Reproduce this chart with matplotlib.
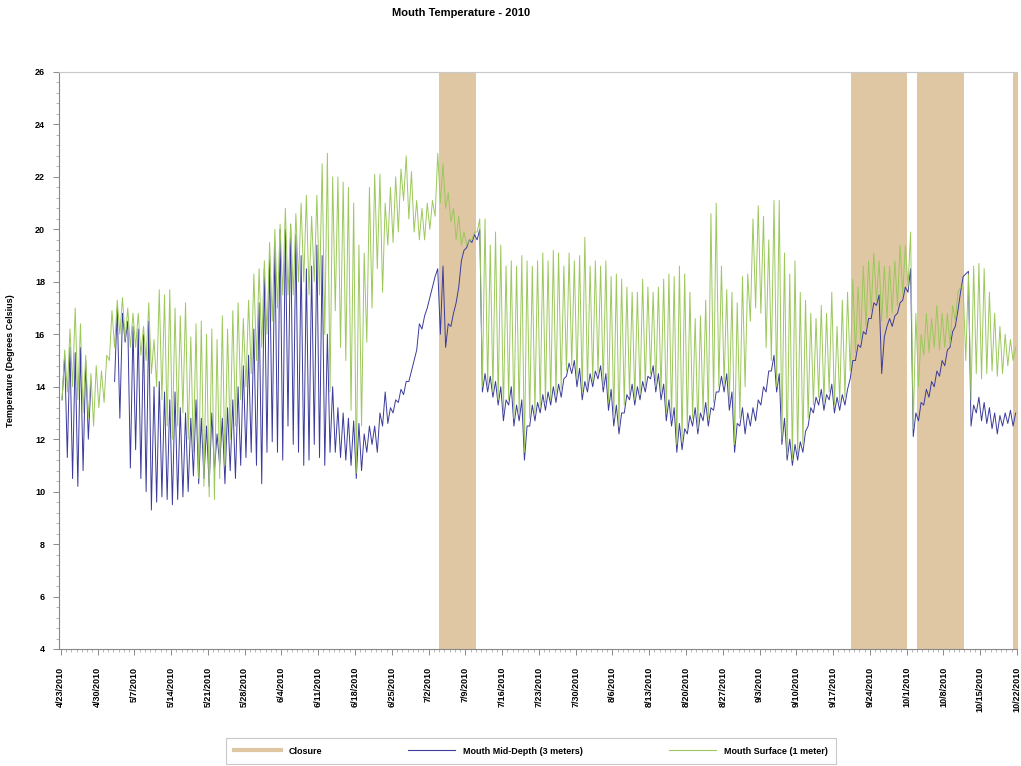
import numpy as np
import pandas as pd
import matplotlib
matplotlib.use("Agg")
import matplotlib.pyplot as plt
import matplotlib.dates as mdates
from matplotlib.lines import Line2D

plt.rcParams['font.family'] = ['Liberation Sans', 'DejaVu Sans']

# daily records, 4/23/2010 .. 10/21/2010 (182 days)
start_date = "2010-04-23"

# Mouth Surface (1 meter): daily high / low, deg C
surface_hi = [
    15.4, 16.2, 17.0, 16.4, 15.2, 14.5, 14.8, 14.6, 15.2, 16.9,
    17.3, 17.4, 17.0, 16.8, 16.8, 16.3, 17.2, 15.8, 17.7, 17.5,
    17.7, 17.0, 16.7, 17.2, 15.9, 16.4, 16.5, 16.0, 16.2, 15.8,
    16.7, 16.2, 16.9, 17.2, 16.6, 17.3, 18.3, 18.5, 18.8, 19.5,
    20.0, 20.2, 20.8, 20.2, 20.6, 21.0, 21.3, 20.5, 21.3, 22.5,
    22.9, 22.0, 22.0, 21.8, 21.6, 21.0, 19.4, 19.1, 21.6, 22.1,
    22.1, 21.0, 21.6, 22.0, 22.3, 22.8, 22.2, 21.1, 20.8, 21.0,
    21.1, 22.9, 22.5, 21.4, 20.8, 20.5, 19.9, 19.6, 19.9, 20.4,
    20.4, 19.4, 19.9, 19.4, 18.6, 18.8, 18.6, 19.0, 18.8, 18.6,
    18.8, 19.1, 18.8, 19.2, 19.1, 18.6, 19.1, 18.8, 19.0, 19.7,
    18.6, 18.8, 18.6, 18.8, 18.2, 18.3, 18.1, 17.8, 17.6, 17.6,
    18.1, 17.8, 17.6, 17.8, 18.1, 18.3, 18.2, 18.6, 18.3, 17.6,
    16.6, 16.7, 17.3, 20.6, 21.0, 18.6, 17.7, 17.6, 17.2, 18.2,
    18.3, 20.4, 20.9, 20.5, 19.6, 21.1, 21.1, 19.1, 18.3, 18.8,
    17.6, 17.3, 16.8, 16.6, 17.1, 16.8, 17.6, 16.3, 17.3, 17.6,
    18.1, 17.8, 18.6, 18.8, 19.1, 18.8, 18.6, 18.6, 18.8, 19.4,
    19.4, 19.9, 16.8, 16.0, 16.8, 16.6, 17.1, 16.8, 16.8, 17.1,
    17.6, 17.8, 18.3, 18.6, 18.7, 18.5, 17.6, 16.8, 16.3, 16.0,
    15.8, 15.5,
]
surface_lo = [
    13.5, 13.8, 14.0, 13.5, 13.0, 12.8, 12.5, 13.2, 13.4, 15.0,
    15.5, 16.0, 15.8, 15.5, 15.5, 15.2, 15.0, 14.5, 14.0, 13.5,
    12.5, 12.0, 12.5, 13.0, 12.0, 11.5, 10.5, 10.2, 9.8, 9.7,
    10.5, 11.0, 12.0, 12.5, 13.5, 14.0, 14.5, 15.0, 15.5, 16.0,
    16.5, 17.0, 17.5, 17.5, 17.5, 18.0, 18.0, 17.5, 18.0, 17.5,
    16.0, 13.8, 16.9, 15.5, 15.0, 13.1, 10.7, 12.5, 15.7, 17.0,
    18.5, 17.6, 19.4, 19.5, 19.9, 21.1, 20.4, 19.9, 19.6, 19.6,
    20.0, 20.5, 21.0, 20.8, 20.3, 19.6, 19.4, 19.4, 19.6, 19.9,
    14.0, 14.0, 13.8, 13.5, 13.0, 13.5, 12.8, 13.0, 11.5, 12.8,
    13.0, 13.2, 13.4, 13.5, 13.7, 13.9, 14.6, 14.8, 14.3, 13.8,
    14.0, 14.2, 14.5, 14.0, 13.4, 12.8, 12.5, 13.3, 13.7, 13.5,
    13.7, 14.0, 14.5, 14.0, 13.8, 13.0, 12.8, 11.8, 11.9, 12.4,
    12.8, 12.4, 13.0, 12.8, 13.4, 14.0, 14.1, 13.4, 11.8, 12.8,
    14.0, 16.5, 17.0, 16.8, 15.5, 15.0, 14.0, 12.0, 11.4, 11.2,
    11.4, 11.8, 12.8, 13.3, 13.6, 13.4, 13.8, 13.3, 13.4, 13.6,
    14.6, 15.3, 15.8, 16.3, 16.9, 17.3, 16.5, 16.6, 16.8, 17.1,
    17.5, 17.8, 12.4, 14.0, 15.2, 15.3, 15.5, 15.4, 15.5, 15.6,
    16.5, 17.8, 15.0, 13.5, 14.5, 14.3, 14.5, 14.6, 14.4, 14.5,
    14.8, 15.0,
]

# Mouth Mid-Depth (3 meters): daily high / low, deg C (no record 4/29-5/2)
middepth_hi = [
    15.2, 15.5, 15.3, 15.5, 15.0, 14.2, np.nan, np.nan, np.nan, np.nan,
    17.0, 16.8, 16.5, 16.3, 16.2, 16.0, 16.5, 14.0, 14.2, 13.8,
    13.5, 13.8, 13.2, 13.0, 12.8, 13.5, 12.8, 12.5, 13.0, 12.2,
    12.8, 13.2, 13.5, 14.0, 14.8, 15.2, 16.2, 17.2, 18.5, 19.0,
    19.5, 20.0, 20.0, 20.2, 19.8, 19.0, 18.5, 18.6, 19.4, 19.0,
    16.0, 14.0, 13.2, 13.0, 12.8, 12.7, 12.6, 12.2, 12.5, 12.5,
    13.0, 13.8, 13.2, 13.5, 13.9, 14.2, 14.6, 15.4, 16.2, 17.0,
    17.8, 18.5, 18.6, 16.4, 16.8, 17.8, 19.2, 19.6, 19.8, 20.0,
    14.5, 14.4, 14.2, 14.0, 13.5, 14.0, 13.3, 13.5, 12.5, 13.3,
    13.4, 13.7, 13.8, 14.0, 14.1, 14.3, 14.9, 15.0, 14.7, 14.2,
    14.5, 14.6, 14.8, 14.5, 13.9, 13.3, 13.0, 13.7, 14.1, 14.0,
    14.2, 14.4, 14.8, 14.5, 14.1, 13.5, 13.2, 12.6, 12.4, 12.9,
    13.2, 13.0, 13.4, 13.2, 13.8, 14.4, 14.5, 13.8, 12.6, 13.2,
    13.0, 13.2, 13.5, 14.0, 14.6, 15.2, 14.5, 12.8, 12.0, 11.8,
    11.9, 12.3, 13.2, 13.6, 13.9, 13.7, 14.1, 13.6, 13.7, 13.9,
    15.0, 15.6, 16.1, 16.6, 17.2, 17.5, 15.9, 16.6, 16.7, 17.2,
    17.8, 18.5, 13.0, 13.4, 13.9, 14.2, 14.6, 15.0, 15.4, 16.1,
    16.9, 18.2, 18.4, 13.3, 13.6, 13.4, 13.2, 13.0, 12.9, 13.0,
    13.1, 13.0,
]
middepth_lo = [
    13.5, 11.3, 10.5, 10.2, 10.8, 12.0, np.nan, np.nan, np.nan, np.nan,
    14.2, 12.8, 15.7, 10.9, 11.6, 10.5, 10.0, 9.3, 9.6, 9.8,
    9.7, 9.5, 9.7, 9.8, 10.0, 10.6, 10.3, 10.5, 10.2, 10.8,
    11.0, 10.3, 10.8, 10.5, 11.0, 11.3, 11.5, 11.0, 10.3, 11.5,
    11.9, 11.5, 11.2, 12.5, 11.8, 11.5, 11.0, 11.2, 11.8, 11.3,
    11.0, 11.5, 11.5, 11.3, 11.2, 11.0, 10.5, 10.8, 11.5, 11.8,
    11.5, 12.5, 12.6, 13.0, 13.4, 13.7, 14.2, 15.0, 16.4, 16.7,
    17.4, 18.2, 16.0, 15.5, 16.3, 17.2, 18.8, 19.3, 19.5, 19.6,
    13.8, 13.8, 13.6, 13.3, 12.7, 13.3, 12.5, 12.7, 11.2, 12.5,
    12.7, 13.0, 13.1, 13.3, 13.4, 13.6, 14.4, 14.5, 14.0, 13.5,
    13.8, 14.0, 14.3, 13.8, 13.1, 12.5, 12.2, 13.0, 13.5, 13.3,
    13.5, 13.8, 14.3, 13.8, 13.5, 12.7, 12.5, 11.5, 11.6, 12.2,
    12.5, 12.2, 12.7, 12.5, 13.1, 13.8, 13.8, 13.1, 11.5, 12.5,
    12.2, 12.5, 12.7, 13.3, 13.8, 14.6, 13.8, 11.8, 11.2, 11.0,
    11.2, 11.5, 12.5, 13.0, 13.3, 13.1, 13.5, 13.0, 13.1, 13.3,
    14.3, 15.0, 15.5, 16.0, 16.6, 17.1, 14.5, 16.3, 16.3, 16.8,
    17.3, 17.6, 12.1, 12.7, 13.3, 13.6, 14.0, 14.4, 14.8, 15.5,
    16.3, 17.6, 18.3, 12.5, 13.0, 12.7, 12.6, 12.4, 12.2, 12.5,
    12.6, 12.5,
]

# mouth closure periods
closure_start = ["2010-07-04", "2010-09-20 12:00", "2010-10-03", "2010-10-21 06:00"]
closure_end = ["2010-07-11", "2010-10-01", "2010-10-12", "2010-10-22"]

GREEN = "#9cc85c"
BLUE = "#3b3b9c"
TAN = "#dfc7a3"


def zigzag(lo, hi):
    """Interleave daily low/high into one half-day series."""
    t0 = pd.Timestamp(start_date)
    times = []
    vals = []
    for i in range(len(lo)):
        times.append(t0 + pd.Timedelta(hours=24 * i + 6))
        vals.append(lo[i])
        times.append(t0 + pd.Timedelta(hours=24 * i + 18))
        vals.append(hi[i])
    return pd.DatetimeIndex(times), np.array(vals, dtype=float)


fig = plt.figure(figsize=(10.21, 7.66), dpi=100)
ax = fig.add_axes([59 / 1021, 1 - 649 / 766, 958 / 1021, 577 / 766])

for s, e in zip(closure_start, closure_end):
    ax.axvspan(pd.Timestamp(s), pd.Timestamp(e), color=TAN, lw=0, zorder=1)

t_mid, v_mid = zigzag(middepth_lo, middepth_hi)
t_sur, v_sur = zigzag(surface_lo, surface_hi)
ax.plot(t_mid, v_mid, color=BLUE, lw=0.7, zorder=2)
ax.plot(t_sur, v_sur, color=GREEN, lw=0.7, zorder=3)

ax.set_ylim(4, 26)
ax.set_yticks(np.arange(4, 27, 2))
ax.yaxis.set_minor_locator(matplotlib.ticker.MultipleLocator(0.4))

x0 = pd.Timestamp(start_date)
x1 = pd.Timestamp("2010-10-22")
ax.set_xlim(x0 - pd.Timedelta(hours=8), x1)
week_ticks = pd.date_range(x0, x1, freq="7D")
ax.set_xticks(week_ticks)
ax.set_xticklabels([f"{d.month}/{d.day}/{d.year}" for d in week_ticks],
                   rotation=90, fontsize=6.5, fontweight="bold")
ax.xaxis.set_minor_locator(mdates.DayLocator())
for lab in ax.get_yticklabels():
    lab.set_fontsize(6.5)
    lab.set_fontweight("bold")

ax.tick_params(axis="both", which="major", length=4, width=0.6, color="#777777", pad=6)
ax.tick_params(axis="both", which="minor", length=2, width=0.5, color="#999999")
ax.tick_params(axis="x", which="major", pad=9)

for side in ("top", "right"):
    ax.spines[side].set_color("#c8c8c8")
    ax.spines[side].set_linewidth(0.8)
for side in ("left", "bottom"):
    ax.spines[side].set_color("#888888")
    ax.spines[side].set_linewidth(0.8)

ax.set_ylabel("Temperature (Degrees Celsius)", fontsize=6.5, fontweight="bold", labelpad=14)

fig.text(461 / 1021, 1 - 13 / 766, "Mouth Temperature - 2010",
         ha="center", va="center", fontsize=8, fontweight="bold")

handles = [
    Line2D([], [], color=TAN, lw=3),
    Line2D([], [], color=BLUE, lw=0.8),
    Line2D([], [], color=GREEN, lw=0.8),
]
labels = ["Closure", "Mouth Mid-Depth (3 meters)", "Mouth Surface (1 meter)"]
leg = fig.legend(handles, labels, loc="center", bbox_to_anchor=(531 / 1021, 1 - 751 / 766),
                 ncol=3, fontsize=6.5, handlelength=5.2, columnspacing=9.5, handletextpad=0.9,
                 frameon=True, fancybox=False, borderpad=0.9, borderaxespad=0)
leg.get_frame().set_edgecolor("#bbbbbb")
leg.get_frame().set_linewidth(0.8)
for t in leg.get_texts():
    t.set_fontweight("bold")

fig.savefig("out.png", dpi=100)
